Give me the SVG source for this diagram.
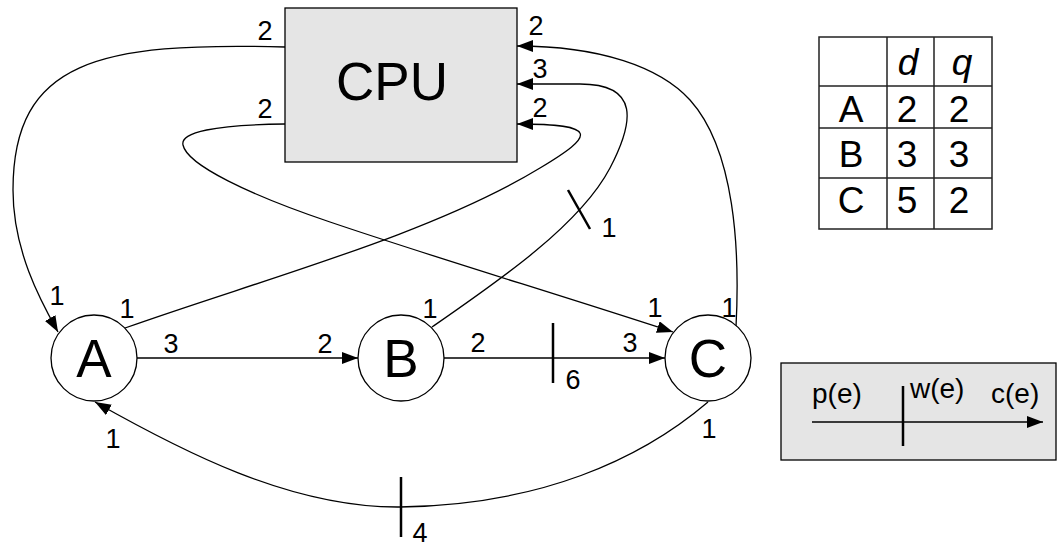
<svg xmlns="http://www.w3.org/2000/svg" width="1057" height="548" viewBox="0 0 1057 548">
<style>
  .e{fill:none;stroke:#000;stroke-width:1.3}
  .t{stroke:#000;stroke-width:2.5}
  .n{fill:#fff;stroke:#000;stroke-width:1.3}
  .box{fill:#e5e5e5;stroke:#000;stroke-width:1.3}
  .lbl{font-family:"Liberation Sans",Arial,sans-serif;font-size:27px;fill:#000;text-anchor:middle}
  .big{font-family:"Liberation Sans",Arial,sans-serif;font-size:53px;fill:#000;text-anchor:middle}
  .tb{font-family:"Liberation Sans",Arial,sans-serif;font-size:37px;fill:#000;text-anchor:middle}
  .lg{font-family:"Liberation Sans",Arial,sans-serif;font-size:28px;fill:#000}
  .grid{fill:none;stroke:#222;stroke-width:1.5}
</style>
<defs>
  <marker id="ah" viewBox="0 0 16 12" refX="16" refY="6" markerWidth="16" markerHeight="12" markerUnits="userSpaceOnUse" orient="auto">
    <path d="M0,0 L16,6 L0,12 Z" fill="#000"/>
  </marker>
</defs>

<g id="connectors">
  <!-- CPU -> A -->
  <path class="e" d="M285,47 C100,42 13,60 13,190 C13,250 40,300 58,332" marker-end="url(#ah)"/>
  <!-- CPU -> C (loop) -->
  <path class="e" d="M285,124 C215,125 180,132 183,145 C187,165 250,195 330,222 C430,256 560,295 673,332" marker-end="url(#ah)"/>
  <!-- A -> CPU -->
  <path class="e" d="M125,328 C260,280 430,235 540,168 C595,135 600,124 517,124" marker-end="url(#ah)"/>
  <!-- B -> CPU -->
  <path class="e" d="M432,327 C500,280 580,225 610,168 C634,122 640,84 580,84 L517,84" marker-end="url(#ah)"/>
  <!-- C -> CPU -->
  <path class="e" d="M736,327 C740,250 735,150 690,100 C660,67 600,46 517,46" marker-end="url(#ah)"/>
  <!-- A -> B -->
  <path class="e" d="M137,358 L358,358" marker-end="url(#ah)"/>
  <!-- B -> C -->
  <path class="e" d="M444,358 L665,358" marker-end="url(#ah)"/>
  <!-- C -> A -->
  <path class="e" d="M708,402 C640,460 540,505 400,507 C290,508 180,450 95,402" marker-end="url(#ah)"/>
  <!-- ticks -->
  <line class="t" x1="553" y1="323" x2="553" y2="383"/>
  <line class="t" x1="401" y1="477" x2="401" y2="537"/>
  <line class="t" x1="568" y1="190" x2="590" y2="229"/>
  <!-- labels -->
  <text class="lbl" x="265" y="40">2</text>
  <text class="lbl" x="265" y="118">2</text>
  <text class="lbl" x="536" y="35">2</text>
  <text class="lbl" x="540" y="78">3</text>
  <text class="lbl" x="540" y="117">2</text>
  <text class="lbl" x="57" y="305">1</text>
  <text class="lbl" x="127" y="318">1</text>
  <text class="lbl" x="171" y="353">3</text>
  <text class="lbl" x="325" y="353">2</text>
  <text class="lbl" x="430" y="318">1</text>
  <text class="lbl" x="478" y="352">2</text>
  <text class="lbl" x="630" y="352">3</text>
  <text class="lbl" x="573" y="389">6</text>
  <text class="lbl" x="655" y="317">1</text>
  <text class="lbl" x="729" y="317">1</text>
  <text class="lbl" x="609" y="237">1</text>
  <text class="lbl" x="709" y="438">1</text>
  <text class="lbl" x="113" y="448">1</text>
  <text class="lbl" x="420" y="542">4</text>
</g>

<g id="cpu">
  <rect class="box" x="285" y="8" width="232" height="154"/>
  <text class="big" x="392" y="100">CPU</text>
</g>
<g id="A">
  <circle class="n" cx="94" cy="358" r="43"/>
  <text class="big" x="94" y="377">A</text>
</g>
<g id="B">
  <circle class="n" cx="401" cy="358" r="43"/>
  <text class="big" x="401" y="377">B</text>
</g>
<g id="C">
  <circle class="n" cx="708" cy="358" r="43"/>
  <text class="big" x="708" y="377">C</text>
</g>

<g id="table">
  <rect class="grid" x="819" y="37" width="173" height="192"/>
  <line class="grid" x1="887" y1="37" x2="887" y2="229"/>
  <line class="grid" x1="934" y1="37" x2="934" y2="229"/>
  <line class="grid" x1="819" y1="86" x2="992" y2="86"/>
  <line class="grid" x1="819" y1="128" x2="992" y2="128"/>
  <line class="grid" x1="819" y1="178" x2="992" y2="178"/>
  <text class="tb" x="908" y="75" font-style="italic">d</text>
  <text class="tb" x="962" y="75" font-style="italic">q</text>
  <text class="tb" x="851" y="122">A</text>
  <text class="tb" x="907" y="122">2</text>
  <text class="tb" x="959" y="122">2</text>
  <text class="tb" x="851" y="167">B</text>
  <text class="tb" x="907" y="167">3</text>
  <text class="tb" x="959" y="167">3</text>
  <text class="tb" x="851" y="213">C</text>
  <text class="tb" x="907" y="213">5</text>
  <text class="tb" x="959" y="213">2</text>
</g>

<g id="legend">
  <rect class="box" x="781" y="363" width="275" height="97"/>
  <path class="e" d="M812,422 L1043,422" marker-end="url(#ah)"/>
  <line class="t" x1="903" y1="386" x2="903" y2="446"/>
  <text class="lg" x="812" y="403">p(e)</text>
  <text class="lg" x="910" y="398">w(e)</text>
  <text class="lg" x="991" y="403">c(e)</text>
</g>
</svg>
